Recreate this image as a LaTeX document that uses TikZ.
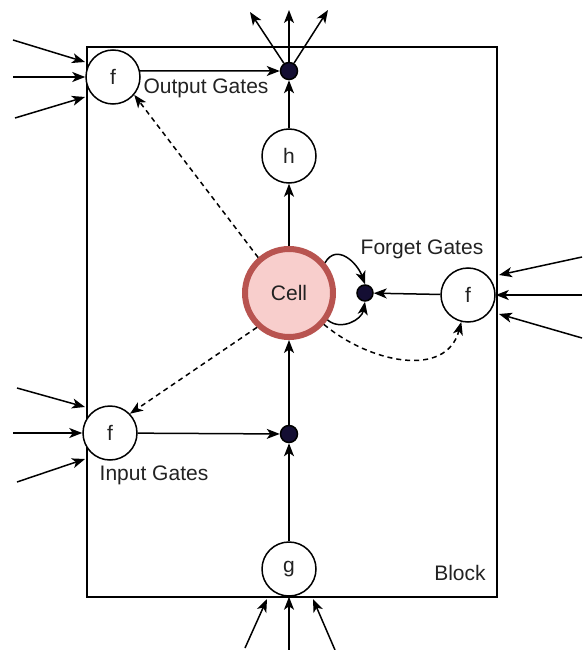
\documentclass[tikz,border=0pt]{standalone}
\usepackage{fontspec}
\setmainfont{Liberation Sans}
\usetikzlibrary{arrows.meta}
\definecolor{cellfill}{HTML}{F8CECC}
\definecolor{celldraw}{HTML}{B85450}
\definecolor{dotfill}{HTML}{140E33}
\definecolor{txt}{HTML}{222222}
\begin{document}
\begin{tikzpicture}[x=1pt,y=1pt,
  line width=1.5pt,
  arr/.style={-{Stealth[length=13pt,width=10pt,inset=3.5pt]}},
  dsh/.style={arr,dash pattern=on 5pt off 4pt},
  gate/.style={circle,draw,fill=white,minimum size=54pt,inner sep=0pt,text=txt,font=\fontsize{21}{23}\selectfont},
  dotn/.style={circle,draw,fill=dotfill,minimum size=17pt,inner sep=0pt},
  lbl/.style={font=\fontsize{21}{23}\selectfont,inner sep=0pt,text=txt}]
\useasboundingbox (0,0) rectangle (582,-650);
\node (block) [draw,minimum width=410pt,minimum height=550pt,inner sep=0pt] at (292,-322) {};
\node (blocklbl) [lbl] at (460,-573) {Block};

\node (of) [gate] at (113,-77) {f};
\node (od) [dotn] at (289,-71) {};
\node (h) [gate] at (289,-156) {h};
\node (cell) [circle,draw=celldraw,fill=cellfill,line width=6pt,minimum size=88pt,inner sep=0pt,text=txt,font=\fontsize{21}{23}\selectfont] at (289,-293) {Cell};
\node (fd) [dotn,minimum size=16pt] at (365,-293) {};
\node (ff) [gate] at (468,-295) {f};
\node (inf) [gate] at (110,-433) {f};
\node (id) [dotn] at (289,-434) {};
\node (g) [gate] at (289,-569) {g};

\node (outlbl) [lbl] at (206,-88) {Output Gates};
\node (forlbl) [lbl] at (422,-249) {Forget Gates};
\node (inlbl) [lbl] at (154,-475) {Input Gates};

% internal connections
\draw[arr] (of.13) -- (od);
\draw[arr] (h) -- (od);
\draw[arr] (cell) -- (h);
\draw[arr] (id) -- (cell);
\draw[arr] (g) -- (id);
\draw[arr] (inf) -- (id);
\draw[arr] (ff) -- (fd);
\draw[arr] (cell.40) to[out=60,in=110,looseness=1.3] (fd.north);
\draw[arr] (cell.-35) to[out=-40,in=-100,looseness=1.1] (fd.south);
\draw[dsh] (cell.131) -- (of.-40);
\draw[dsh] (cell.227) -- (inf.44);
\draw[dsh] (cell.-42) to[out=-40,in=-105,looseness=1.1] (ff.-104);

% outputs at top
\coordinate (t1) at (250,-12);
\coordinate (t2) at (289,-10);
\coordinate (t3) at (328,-10);
\draw[arr] (od) -- (t1);
\draw[arr] (od) -- (t2);
\draw[arr] (od) -- (t3);

% output gate inputs
\coordinate (oa1) at (13,-40);  \coordinate (ob1) at (85,-62);
\coordinate (oa2) at (13,-77);
\coordinate (oa3) at (15,-118); \coordinate (ob3) at (85,-97);
\draw[arr] (oa1) -- (ob1);
\draw[arr] (oa2) -- (of.west);
\draw[arr] (oa3) -- (ob3);

% forget gate inputs
\coordinate (fa1) at (582,-257); \coordinate (fb1) at (499,-275);
\coordinate (fa2) at (582,-295);
\coordinate (fa3) at (582,-338); \coordinate (fb3) at (499,-314);
\draw[arr] (fa1) -- (fb1);
\draw[arr] (fa2) -- (ff.east);
\draw[arr] (fa3) -- (fb3);

% input gate inputs
\coordinate (ia1) at (17,-388); \coordinate (ib1) at (85,-407);
\coordinate (ia2) at (13,-433);
\coordinate (ia3) at (17,-482); \coordinate (ib3) at (85,-459);
\draw[arr] (ia1) -- (ib1);
\draw[arr] (ia2) -- (inf.west);
\draw[arr] (ia3) -- (ib3);

% g inputs
\coordinate (ga1) at (245,-648); \coordinate (gb1) at (267,-599);
\coordinate (ga2) at (289,-650);
\coordinate (ga3) at (335,-650); \coordinate (gb3) at (313,-599);
\draw[arr] (ga1) -- (gb1);
\draw[arr] (ga2) -- (g.south);
\draw[arr] (ga3) -- (gb3);
\end{tikzpicture}
\end{document}
